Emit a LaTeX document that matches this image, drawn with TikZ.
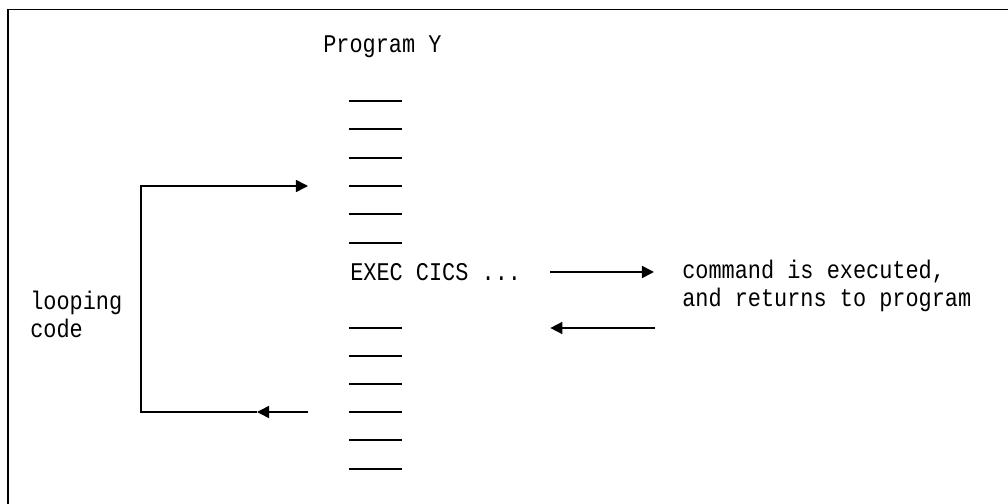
\documentclass[tikz,border=0pt]{standalone}
\usepackage{fontspec}
\setmonofont[FakeStretch=0.86]{Liberation Mono}
\usetikzlibrary{arrows.meta,calc}

\tikzset{
  mono/.style={font=\fontsize{18.1}{19.9}\selectfont\ttfamily, inner sep=0pt, align=left},
  codeline/.style={line width=1.1pt},
  flow/.style={line width=1.1pt, -{Triangle[length=0.3cm,width=0.3cm]}},
}

\begin{document}
\begin{tikzpicture}[x=0.025cm, y=-0.025cm]
    % Marco de la pagina (solo arriba e izquierda)
    \useasboundingbox (0,0) rectangle (1008,504);
    \draw[line width=1.4pt] (1008,9.5) -- (8,9.5) -- (8,504);

    % Titulo del programa
    \node[mono, anchor=west] (title) at (323,47) {Program Y};

    % Lineas de codigo del programa
    \foreach \y [count=\i] in {101,129,158,186,214,243,328,356,384,412,440,469}
      \draw[codeline] (349,\y) coordinate (d\i) -- ++(53,0);

    % Instruccion EXEC CICS
    \node[mono, anchor=west] (exec) at (350,272) {EXEC CICS ...};

    % Texto del resultado
    \node[mono, anchor=west] (result) at (682,286) {command is executed,\\and returns to program};

    % Llamada y retorno
    \draw[flow, shorten <=0.725cm, shorten >=0.7cm] (exec.east) -- (exec.east -| result.west);
    \draw[flow, shorten <=0.675cm, shorten >=0.725cm] (d7 -| result.west) -- (d7 -| exec.east);

    % Bucle del codigo
    \coordinate (loopin) at ($(d4)+(-41,0)$);
    \coordinate (loopout) at ($(d10)+(-41,0)$);
    \coordinate (looptop) at (141,186);
    \coordinate (loopbot) at (141,412);
    \coordinate (looparrow) at (257,412);
    \draw[flow] (loopout) -- (looparrow);
    \draw[flow] (looparrow) -- (loopbot) -- (looptop) -- (loopin);

    % Etiqueta del bucle
    \node[mono, anchor=west] (loop) at (30,314) {looping\\code};
\end{tikzpicture}
\end{document}
